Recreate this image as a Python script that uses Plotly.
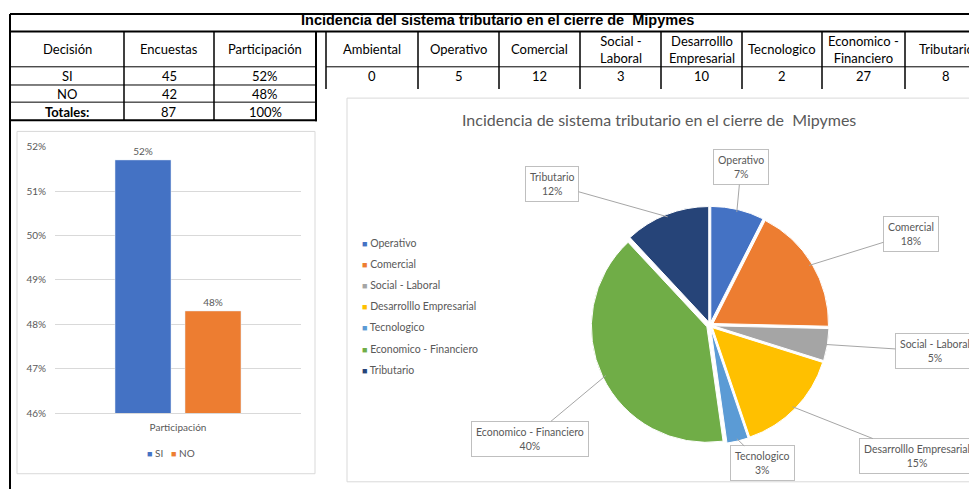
import math
import plotly.graph_objects as go

W, H = 977, 489
# measured placement of the figure in the browser shot
OFF_X = 8
TOP_Y, SHOWN_H = 16.7, 472.4
TOP_SHIFT = 3  # small nudge for the sheet header band

# ---- data ----
title_main = "Incidencia del sistema tributario en el cierre de  Mipymes"
pie_title = "Incidencia de sistema tributario en el cierre de  Mipymes"

table1_header = ["Decisión", "Encuestas", "Participación"]
decision = ["SI", "NO"]
encuestas = [45, 42]
participacion = [0.517, 0.483]
total_label = "Totales:"
total_encuestas = 87
total_part = 1.0

categorias = ["Ambiental", "Operativo", "Comercial", "Social - Laboral",
              "Desarrolllo Empresarial", "Tecnologico", "Economico - Financiero", "Tributario"]
categorias_header = ["Ambiental", "Operativo", "Comercial", "Social -<br>Laboral",
                     "Desarrolllo<br>Empresarial", "Tecnologico", "Economico -<br>Financiero", "Tributario"]
conteos = [0, 5, 12, 3, 10, 2, 27, 8]
pie_pct_labels = ["7%", "18%", "5%", "15%", "3%", "40%", "12%"]

bar_colors = ["#4472C4", "#ED7D31"]
pie_colors = ["#4472C4", "#ED7D31", "#A5A5A5", "#FFC000", "#5B9BD5", "#70AD47", "#264478"]

FONT = "Lato"
GRAY = "#595959"


def X(px):
    return min(max((px - OFF_X) / W, 0), 1)


def Y(py):
    return min(max(1 - (py - TOP_Y) / SHOWN_H, 0), 1)


def hline(x0, x1, y, w=1, color="black"):
    return dict(type="line", xref="paper", yref="paper", x0=X(x0), x1=X(x1), y0=Y(y), y1=Y(y),
                line=dict(color=color, width=w))


def vline(x, y0, y1, w=1, color="black"):
    return dict(type="line", xref="paper", yref="paper", x0=X(x), x1=X(x), y0=Y(y0), y1=Y(y1),
                line=dict(color=color, width=w))


def txt(x, y, s, size=13, color="black", family=FONT, xanchor="center"):
    return dict(x=X(x), y=Y(y), xref="paper", yref="paper", text=s, showarrow=False,
                xanchor=xanchor, yanchor="middle",
                font=dict(family=family, size=size, color=color))


fig = go.Figure()
annotations = []
shapes = []
s = TOP_SHIFT

# ---- title box + sheet borders ----
annotations.append(txt(498, 20 + s, f"<b>{title_main}</b>", size=14.5, family="Liberation Sans, Arial"))
shapes += [hline(10, 990, 10 + s, 2), hline(10, 990, 31 + s, 2), vline(10, 10 + s, 500, 2)]

# ---- left table ----
t1_cols = [10, 124, 214, 316]
t1_rows = [31 + s, 66 + s, 84 + s, 101 + s, 119 + s]
t1_body = [decision + [f"<b>{total_label}</b>"],
           [str(v) for v in encuestas] + [str(total_encuestas)],
           [f"{v:.0%}" for v in participacion] + [f"{total_part:.0%}"]]
for j, head in enumerate(table1_header):
    xc = (t1_cols[j] + t1_cols[j + 1]) / 2
    annotations.append(txt(xc, (t1_rows[0] + t1_rows[1]) / 2, head))
    for i, val in enumerate(t1_body[j]):
        annotations.append(txt(xc, (t1_rows[i + 1] + t1_rows[i + 2]) / 2 + 0.5, val))
for xv in t1_cols[1:-1]:
    shapes.append(vline(xv, t1_rows[0], t1_rows[-1], 1.5))
shapes.append(vline(t1_cols[-1], t1_rows[0], t1_rows[-1] + 1, 2))
for yv in t1_rows[1:-1]:
    shapes.append(hline(t1_cols[0], t1_cols[-1], yv, 1))
shapes.append(hline(t1_cols[0], t1_cols[-1] + 1, t1_rows[-1], 2))

# ---- right table ----
t2_cols = [326, 418, 499, 580, 661, 742, 822, 905, 987]
t2_rows = [31 + s, 66 + s, 84 + s]
for j, (head, val) in enumerate(zip(categorias_header, conteos)):
    xc = (t2_cols[j] + t2_cols[j + 1]) / 2
    annotations.append(txt(xc, (t2_rows[0] + t2_rows[1]) / 2, head))
    annotations.append(txt(xc, (t2_rows[1] + t2_rows[2]) / 2 + 0.5, str(val)))
for xv in t2_cols[:-1]:
    shapes.append(vline(xv, t2_rows[0], t2_rows[-1] + 4, 1.5))
shapes.append(hline(t2_cols[0], t2_cols[-1], t2_rows[1], 1))

# ---- chart frames ----
shapes.append(dict(type="rect", xref="paper", yref="paper", x0=X(17), x1=X(315), y0=Y(472), y1=Y(133),
                   line=dict(color="#d9d9d9", width=1)))
shapes.append(dict(type="rect", xref="paper", yref="paper", x0=X(347), x1=X(990), y0=Y(480), y1=Y(100),
                   line=dict(color="#d9d9d9", width=1)))

# ---- bar chart ----
for name, v, c in zip(decision, participacion, bar_colors):
    fig.add_trace(go.Bar(
        x=["Participación"], y=[v], name=name, marker_color=c,
        texttemplate="%{y:.0%}", textposition="outside", cliponaxis=False,
        textfont=dict(family=FONT, size=10, color=GRAY), showlegend=False,
    ))
# bar legend
leg_x = [145, 169]
for name, c, lx in zip(decision, bar_colors, leg_x):
    annotations.append(txt(lx, 451, f"<span style='color:{c};font-size:9px'>■</span> {name}",
                           size=10, color=GRAY, xanchor="left"))

# ---- pie chart ----
pie_vals = conteos[1:]
pie_labels = categorias[1:]
PULL = 0.03
cx, cy, half = 710, 325, 119
fig.add_trace(go.Pie(
    labels=pie_labels, values=pie_vals, sort=False, direction="clockwise", rotation=0,
    marker=dict(colors=pie_colors, line=dict(color="white", width=1)),
    pull=[PULL] * len(pie_vals), textinfo="none", hoverinfo="label+percent",
    domain=dict(x=[X(cx - half), X(cx + half)], y=[Y(cy + half), Y(cy - half)]),
    showlegend=False,
))

# pie legend
for k, (lab, c) in enumerate(zip(pie_labels, pie_colors)):
    annotations.append(txt(360, 243 + 21 * k, f"<span style='color:{c};font-size:9px'>■</span> {lab}",
                           size=10.5, color=GRAY, xanchor="left"))

# callout boxes (text box centres, px)
box_pos = [(741, 168), (911, 234), (935, 351), (917, 455), (762, 462), (530, 438), (552, 185)]
total = sum(pie_vals)
cum = 0
for lab, v, pct, (bx, by) in zip(pie_labels, pie_vals, pie_pct_labels, box_pos):
    theta = 2 * math.pi * (cum + v / 2) / total
    cum += v
    r = half * 0.97
    hx = cx + r * math.sin(theta)
    hy = cy - r * math.cos(theta)
    annotations.append(dict(
        x=X(hx), y=Y(hy), xref="paper", yref="paper", ax=bx - hx, ay=by - hy,
        text=f"{lab}<br>{pct}", showarrow=True, arrowhead=0, arrowwidth=1,
        arrowcolor="#a6a6a6", bordercolor="#bfbfbf", borderwidth=1, borderpad=4,
        bgcolor="white", font=dict(family=FONT, size=10.5, color=GRAY),
    ))

annotations.append(txt(659, 121, pie_title, size=16, color=GRAY))

fig.update_layout(
    width=W, height=H,
    margin=dict(l=0, r=0, t=0, b=0),
    paper_bgcolor="white", plot_bgcolor="white",
    font=dict(family=FONT, color=GRAY),
    barmode="group", bargap=0.431, bargroupgap=0.2,
    xaxis=dict(domain=[X(55), X(301)], showline=True, linecolor="#d9d9d9",
               tickfont=dict(family=FONT, size=10, color=GRAY), ticks="", ticklabelstandoff=5),
    yaxis=dict(domain=[Y(412), Y(148)], range=[0.46, 0.52], dtick=0.01, tickformat=".0%",
               gridcolor="#d9d9d9", showline=False, zeroline=False, ticklabelstandoff=8,
               tickfont=dict(family=FONT, size=10, color=GRAY)),
    annotations=annotations,
    shapes=shapes,
)

fig.write_html("out.html")
